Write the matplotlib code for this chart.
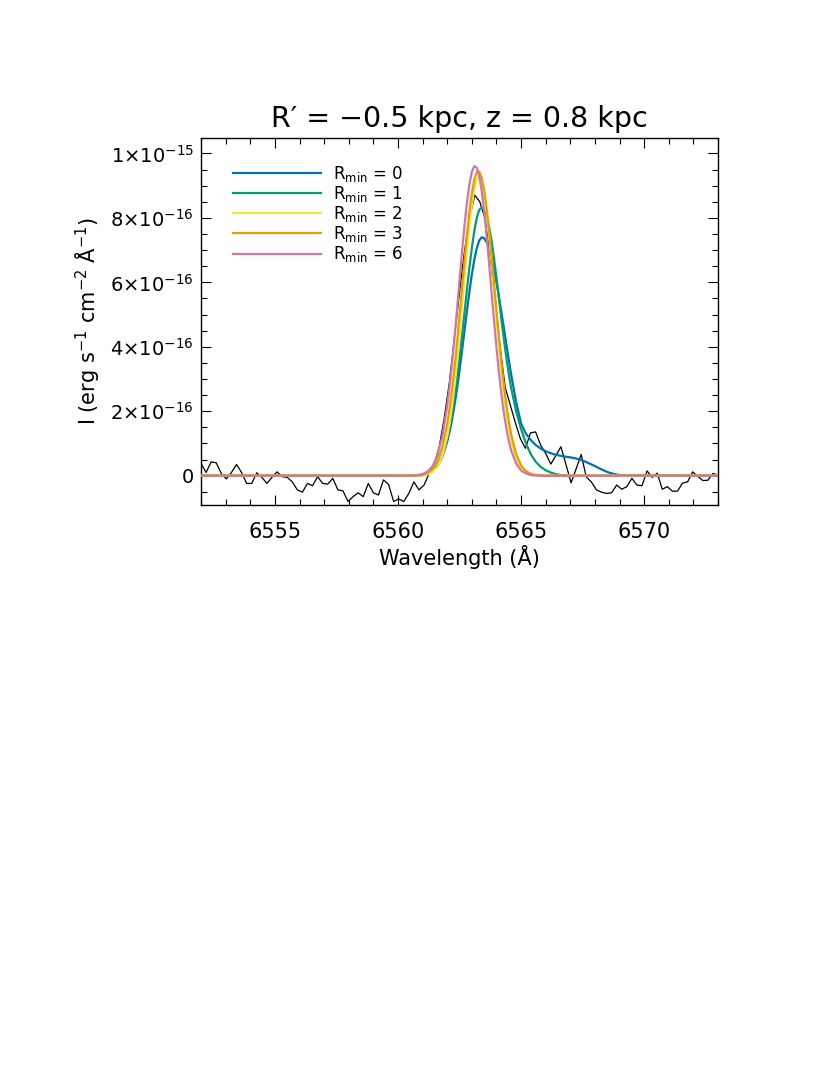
import numpy as np
import matplotlib
matplotlib.use("Agg")
import matplotlib.pyplot as plt
from matplotlib.ticker import MultipleLocator, FixedLocator, FixedFormatter

# intensities are kept in units of 1e-16 erg s^-1 cm^-2 A^-1
scale = 1e-16

# observed spectrum, evenly sampled from 6552 to 6573 A
flux_obs = [
    0.38, 0.10, 0.43, 0.40, 0.07, -0.10, 0.10, 0.35, 0.10, -0.24,
    -0.24, 0.09, -0.05, -0.24, -0.05, 0.12, -0.03, -0.05, -0.19, -0.44,
    -0.51, -0.24, -0.31, -0.03, -0.24, -0.26, -0.08, -0.44, -0.47, -0.80,
    -0.65, -0.53, -0.65, -0.24, -0.53, -0.60, -0.13, -0.27, -0.80, -0.72,
    -0.80, -0.55, -0.19, -0.44, -0.29, 0.07, 0.35, 0.90, 1.80, 2.90,
    4.30, 5.70, 7.00, 8.00, 8.71, 8.50, 8.00, 6.90, 5.50, 4.00,
    2.75, 2.20, 1.65, 1.15, 0.85, 1.33, 1.36, 0.95, 0.69, 0.36,
    0.62, 0.90, 0.35, -0.22, 0.21, 0.66, -0.04, -0.19, -0.44, -0.51,
    -0.55, -0.53, -0.29, -0.42, -0.34, -0.08, -0.29, -0.31, 0.15, -0.05,
    0.08, -0.42, -0.34, -0.48, -0.48, -0.23, -0.19, 0.12, -0.02, -0.15,
    -0.14, 0.07, 0.02,
]
wave_obs = np.linspace(6552.0, 6573.0, len(flux_obs))

# model profiles: 0.2 A steps in the wings, 0.1 A steps in the core
model_grid = np.round(np.concatenate([
    np.arange(6560.0, 6561.85, 0.2),
    np.arange(6562.0, 6564.65, 0.1),
    np.arange(6564.8, 6569.05, 0.2),
]), 1)

rmin_0 = [
    0, 0, 0, 0, 0.01, 0.03, 0.06, 0.14, 0.30, 0.59,
    1.06, 1.38, 1.76, 2.21, 2.71, 3.27, 3.87, 4.49, 5.11, 5.70,
    6.25, 6.70, 7.06, 7.30, 7.40, 7.37, 7.25, 7.05, 6.77, 6.42,
    6.01, 5.56, 5.08, 4.59, 4.09, 3.60, 3.13,
    2.29, 1.62, 1.30, 1.10, 0.95, 0.84, 0.76, 0.70, 0.65, 0.62,
    0.59, 0.57, 0.54, 0.50, 0.44, 0.37, 0.30, 0.22, 0.15, 0.09,
    0.05, 0.02,
]
rmin_1 = [
    0, 0, 0, 0, 0.01, 0.02, 0.06, 0.14, 0.31, 0.61,
    1.13, 1.49, 1.91, 2.42, 3.00, 3.64, 4.33, 5.05, 5.77, 6.45,
    7.07, 7.60, 8.00, 8.25, 8.33, 8.26, 8.05, 7.72, 7.28, 6.75,
    6.15, 5.51, 4.85, 4.25, 3.67, 3.16, 2.71,
    2.00, 1.45, 1.00, 0.66, 0.43, 0.27, 0.17, 0.10, 0.05, 0.02,
    0.01, 0, 0, 0, 0, 0, 0, 0, 0, 0,
    0, 0,
]
rmin_2 = [
    0, 0, 0, 0, 0, 0.01, 0.04, 0.12, 0.28, 0.61,
    1.22, 1.65, 2.18, 2.82, 3.55, 4.36, 5.22, 6.10, 6.96, 7.74,
    8.40, 8.90, 9.19, 9.26, 9.10, 8.72, 8.16, 7.44, 6.62, 5.75,
    4.87, 4.02, 3.24, 2.55, 1.95, 1.46, 1.07,
    0.53, 0.24, 0.10, 0.04, 0.01, 0, 0, 0, 0, 0,
    0, 0, 0, 0, 0, 0, 0, 0, 0, 0,
    0, 0,
]
rmin_3 = [
    0, 0, 0, 0, 0.01, 0.03, 0.08, 0.20, 0.44, 0.88,
    1.61, 2.11, 2.70, 3.39, 4.15, 4.97, 5.83, 6.67, 7.47, 8.19,
    8.77, 9.19, 9.42, 9.44, 9.25, 8.87, 8.31, 7.62, 6.84, 6.00,
    5.15, 4.31, 3.54, 2.83, 2.22, 1.71, 1.28,
    0.67, 0.32, 0.14, 0.06, 0.02, 0.01, 0, 0, 0, 0,
    0, 0, 0, 0, 0, 0, 0, 0, 0, 0,
    0, 0,
]
rmin_6 = [
    0, 0, 0, 0.01, 0.02, 0.05, 0.13, 0.29, 0.63, 1.22,
    2.17, 2.79, 3.51, 4.31, 5.17, 6.06, 6.94, 7.75, 8.47, 9.04,
    9.43, 9.61, 9.56, 9.30, 8.84, 8.21, 7.43, 6.59, 5.70, 4.82,
    3.98, 3.21, 2.53, 1.95, 1.47, 1.08, 0.78,
    0.37, 0.16, 0.07, 0.02, 0.01, 0, 0, 0, 0, 0,
    0, 0, 0, 0, 0, 0, 0, 0, 0, 0,
    0, 0,
]

models = [rmin_0, rmin_1, rmin_2, rmin_3, rmin_6]
rmin_labels = ["0", "1", "2", "3", "6"]
colors = ["#0072B2", "#009E73", "#F0E442", "#E69F00", "#CC79A7"]

ytick_vals = [0, 2, 4, 6, 8, 10]
ytick_text = ["0", r"$2{\times}10^{-16}$", r"$4{\times}10^{-16}$", r"$6{\times}10^{-16}$",
              r"$8{\times}10^{-16}$", r"$1{\times}10^{-15}$"]

plt.rcParams["font.family"] = ["DejaVu Sans"]
plt.rcParams["mathtext.fontset"] = "dejavusans"

fig = plt.figure(figsize=(8.3, 10.75), dpi=100)
ax = fig.add_axes([0.2422, 0.5302, 0.6229, 0.3414])

ax.plot(wave_obs, np.array(flux_obs) * scale, color="black", lw=0.9, zorder=2)

# models run flat along zero outside the line region
wave_mod = np.concatenate([[6552.0], model_grid, [6573.0]])
for vals, col, lab in zip(models, colors, rmin_labels):
    yv = np.concatenate([[0.0], vals, [0.0]]) * scale
    ax.plot(wave_mod, yv, color=col, lw=1.6, zorder=3,
            label=r"R$_{\mathrm{min}}$ = " + lab)

ax.set_xlim(6552, 6573)
ax.set_ylim(-0.91 * scale, 10.48 * scale)

ax.xaxis.set_major_locator(MultipleLocator(5))
ax.xaxis.set_minor_locator(MultipleLocator(1))
ax.yaxis.set_major_locator(FixedLocator([v * scale for v in ytick_vals]))
ax.yaxis.set_major_formatter(FixedFormatter(ytick_text))
ax.yaxis.set_minor_locator(MultipleLocator(0.5 * scale))

ax.tick_params(which="both", direction="in", top=True, right=True, width=0.8)
ax.tick_params(which="major", length=7.2)
ax.tick_params(which="minor", length=4)
ax.tick_params(axis="x", labelsize=15, pad=12.5)
ax.tick_params(axis="y", labelsize=14, pad=5)
for sp in ax.spines.values():
    sp.set_linewidth(1.0)

ax.set_title("R\u2032 = \u22120.5 kpc, z = 0.8 kpc", fontsize=20.5, pad=8)
ax.set_xlabel("Wavelength (\u00c5)", fontsize=15, labelpad=2)
ax.set_ylabel("I (erg s$^{-1}$ cm$^{-2}$ \u00c5$^{-1}$)", fontsize=15, labelpad=6)

ax.legend(loc="upper left", bbox_to_anchor=(0.061, 0.93), frameon=False,
          fontsize=12, handlelength=5.3, handletextpad=0.75,
          labelspacing=0.01, borderpad=0, borderaxespad=0)

fig.savefig("out.png", dpi=100)
